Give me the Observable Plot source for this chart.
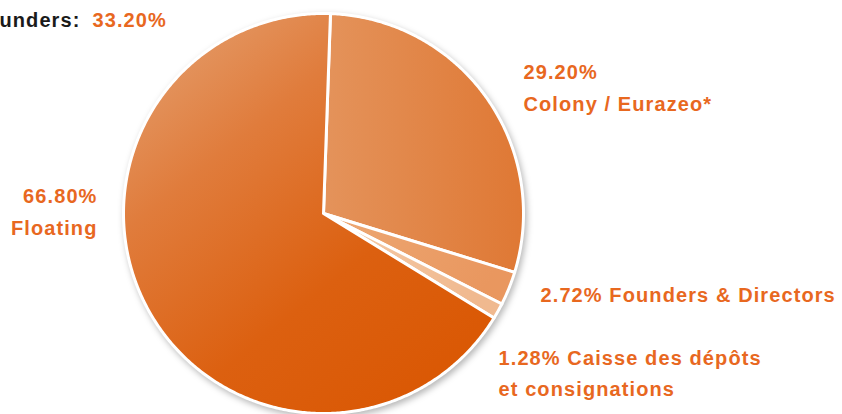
<!DOCTYPE html>
<html><head><meta charset="utf-8">
<script src="https://cdn.jsdelivr.net/npm/d3@7"></script>
<script src="https://cdn.jsdelivr.net/npm/@observablehq/plot@0.6"></script>
<style>
html,body{margin:0;padding:0;background:#fff;overflow:hidden}
</style></head><body><div id="chart"></div>
<script>
// ---- data ----
const categories = ["Colony / Eurazeo*", "Founders & Directors", "Caisse des dépôts et consignations", "Floating"];
const shares = [29.20, 2.72, 1.28, 66.80];
const groupLabel = "Founders:";
const groupShare = 33.20;

// ---- layout / style ----
const W = 842, H = 414;
const cx = 323, cy = 213, R = 200;
const startDeg = 2;
const gradients = [
  {id: "gColony", x2: 1, y2: 0, stops: [["0%", "#e4935b"], ["100%", "#df7834"]]},
  {id: "gFD", x2: 1, y2: 0.3, stops: [["0%", "#eda874"], ["100%", "#e9975f"]]},
  {id: "gCDC", x2: 1, y2: 0.3, stops: [["0%", "#f5cba8"], ["100%", "#f0b98f"]]},
  {id: "gFloat", x2: 0.75, y2: 1, stops: [["0%", "#e5a577"], ["35%", "#e07c3c"], ["70%", "#dc6010"], ["100%", "#da5804"]]}
];
const orange = "#e8681f";
const fmt = v => v.toFixed(2) + "%";

// label lines, built from the data
const labelLines = [
  {text: groupLabel, color: "#1a1a1a", anchor: "end", px: 80, py: 20},
  {text: fmt(groupShare), color: orange, anchor: "start", px: 92, py: 20},
  {text: fmt(shares[0]), color: orange, anchor: "start", px: 523, py: 72},
  {text: categories[0], color: orange, anchor: "start", px: 523, py: 104},
  {text: fmt(shares[3]), color: orange, anchor: "end", px: 97, py: 196},
  {text: categories[3], color: orange, anchor: "end", px: 97, py: 228},
  {text: fmt(shares[1]) + " " + categories[1], color: orange, anchor: "start", px: 540, py: 295},
  {text: fmt(shares[2]) + " " + categories[2].split(" et ")[0], color: orange, anchor: "start", px: 498, py: 358},
  {text: "et " + categories[2].split(" et ")[1], color: orange, anchor: "start", px: 498, py: 389}
].map(d => ({...d, x: (d.px - cx) / R, y: (d.py - cy) / R}));

// ---- pie geometry from data ----
const arcs = d3.pie().sort(null).value(d => d)
  .startAngle(startDeg * Math.PI / 180)
  .endAngle(startDeg * Math.PI / 180 + 2 * Math.PI)(shares);
const rows = [];
arcs.forEach((a, i) => {
  const grad = `url(#${gradients[i].id})`;
  rows.push({slice: i, x: 0, y: 0, grad});
  const n = Math.max(2, Math.ceil((a.endAngle - a.startAngle) / (Math.PI / 360)));
  for (let k = 0; k <= n; k++) {
    const t = a.startAngle + (a.endAngle - a.startAngle) * k / n;
    rows.push({slice: i, x: Math.sin(t), y: -Math.cos(t), grad});
  }
});

const chart = Plot.plot({
  width: W, height: H,
  margin: 0,
  style: {fontFamily: "'Liberation Sans', Arial, sans-serif", letterSpacing: "1.1px", background: "#fff"},
  x: {domain: [-cx / R, (W - cx) / R], range: [0, W], axis: null},
  y: {domain: [-cy / R, (H - cy) / R], range: [0, H], axis: null},
  color: {type: "identity"},
  marks: [
    Plot.line(rows, {x: "x", y: "y", z: "slice", fill: "grad", stroke: "#ffffff", strokeWidth: 3,
      strokeLinejoin: "round", curve: "linear-closed"}),
    Plot.text(labelLines.filter(d => d.anchor === "start"), {x: "x", y: "y", text: "text", fill: "color",
      textAnchor: "start", fontSize: 20, fontWeight: "bold"}),
    Plot.text(labelLines.filter(d => d.anchor === "end"), {x: "x", y: "y", text: "text", fill: "color",
      textAnchor: "end", fontSize: 20, fontWeight: "bold"})
  ]
});

const svg = d3.select(chart);
const defs = svg.insert("defs", ":first-child");
gradients.forEach(g => {
  const lg = defs.append("linearGradient").attr("id", g.id)
    .attr("x1", 0).attr("y1", 0).attr("x2", g.x2).attr("y2", g.y2);
  g.stops.forEach(([o, c]) => lg.append("stop").attr("offset", o).attr("stop-color", c));
});
svg.select('g[aria-label="line"]').style("filter", "drop-shadow(2px 3px 3px rgba(0,0,0,0.28))");

document.getElementById("chart").appendChild(chart);
</script>
</body></html>
